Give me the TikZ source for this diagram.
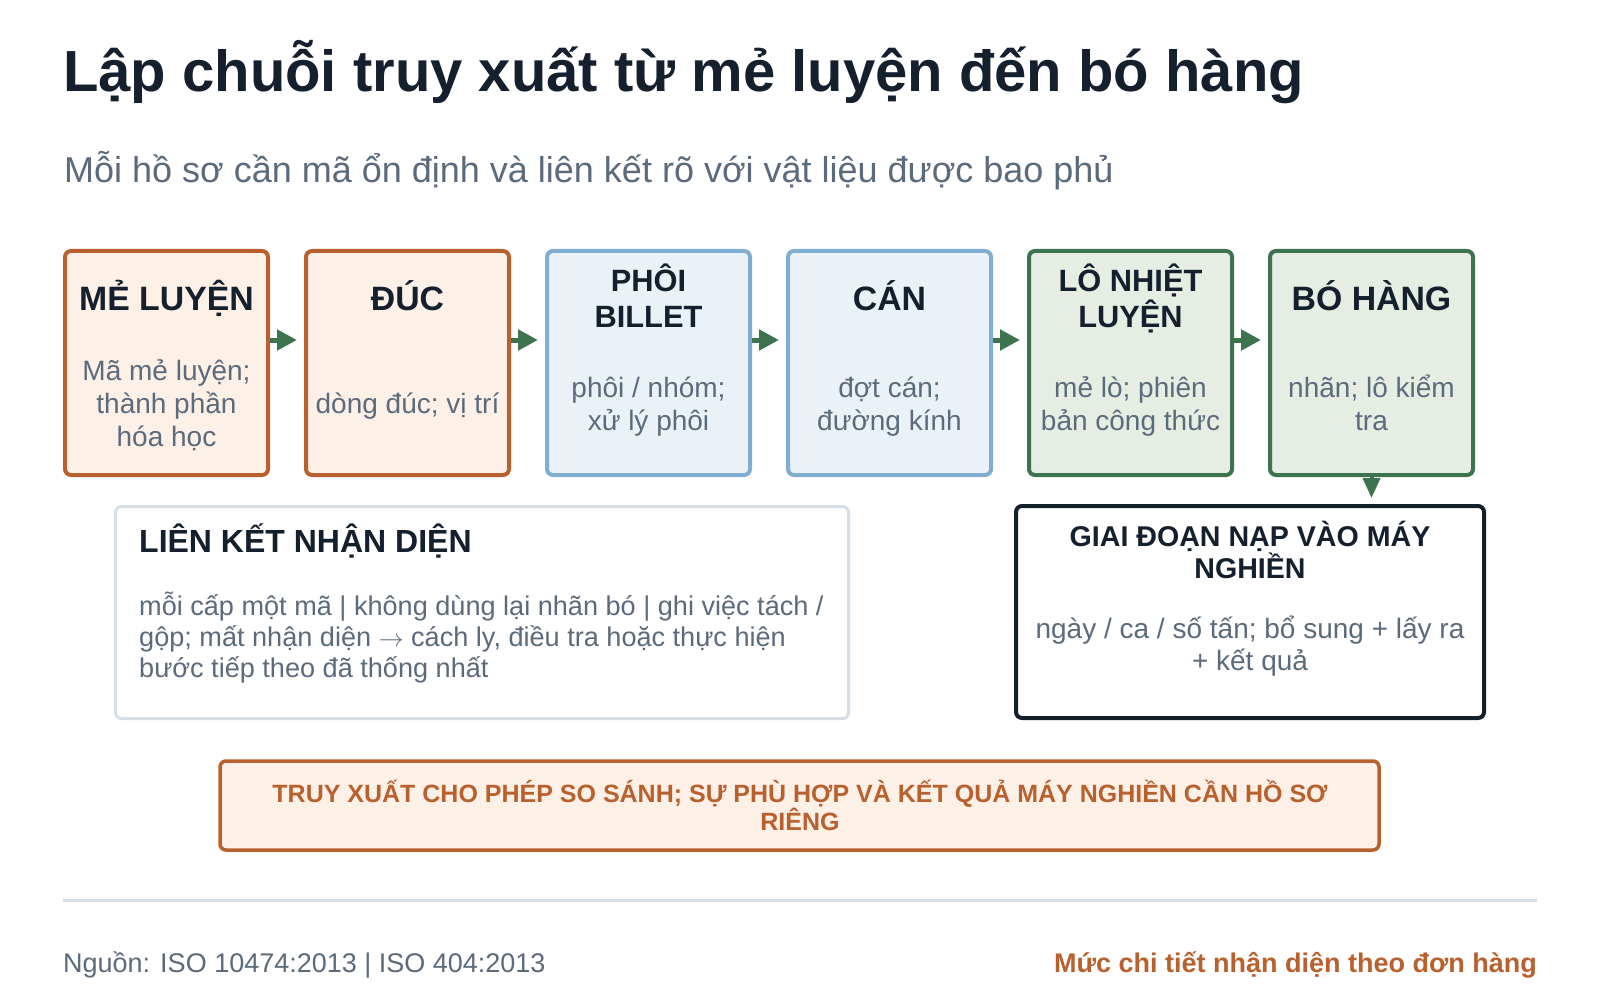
\documentclass[tikz,border=0pt]{standalone}
\usepackage{fontspec}
\setmainfont{Liberation Sans}
\usetikzlibrary{arrows.meta,calc}
\definecolor{ink}{HTML}{14202E}
\definecolor{muted}{HTML}{5B6B7C}
\definecolor{rust}{HTML}{B9602F}
\definecolor{rustfill}{HTML}{FDF0E7}
\definecolor{sky}{HTML}{7FAED1}
\definecolor{skyfill}{HTML}{EAF2F7}
\definecolor{moss}{HTML}{3E7350}
\definecolor{mossfill}{HTML}{E6EEE3}
\definecolor{rulegray}{HTML}{D5DFE8}
\begin{document}
\begin{tikzpicture}[x=1pt,y=-1pt,
  stage/.style={draw, rounded corners=6pt, line width=4pt, minimum width=203pt, minimum height=224pt, inner sep=0pt},
  orangebox/.style={stage, draw=rust, fill=rustfill},
  bluebox/.style={stage, draw=sky, fill=skyfill},
  greenbox/.style={stage, draw=moss, fill=mossfill},
  headA/.style={anchor=base, inner sep=0pt, text=ink, font=\fontsize{33.8}{40}\selectfont\bfseries},
  headB/.style={anchor=base, inner sep=0pt, text=ink, font=\fontsize{30.8}{36}\selectfont\bfseries},
  headC/.style={anchor=base, inner sep=0pt, text=ink, font=\fontsize{28.6}{34}\selectfont\bfseries},
  body/.style={anchor=base, inner sep=0pt, text=muted, font=\fontsize{28}{33}\selectfont},
  bodyL/.style={body, anchor=base west, font=\fontsize{27.1}{33}\selectfont},
  banner/.style={anchor=base, inner sep=0pt, text=rust, font=\fontsize{25}{30}\selectfont\bfseries},
  flow/.style={draw=moss, line width=5pt, -{Triangle[length=20pt,width=20pt]}, shorten >=7pt},
  panel/.style={rounded corners=6pt, fill=white, inner sep=0pt},
]
\fill[white] (0,0) rectangle (1600,1000);
\useasboundingbox (0,0) rectangle (1600,1000);

% title
\node[anchor=base west, inner sep=0pt, text=ink, font=\fontsize{58}{70}\selectfont\bfseries] (title) at (63,92) {Lập chuỗi truy xuất từ mẻ luyện đến bó hàng};
\node[anchor=base west, inner sep=0pt, text=muted, font=\fontsize{36}{43}\selectfont] (subtitle) at (64,183) {Mỗi hồ sơ cần mã ổn định và liên kết rõ với vật liệu được bao phủ};

% stage boxes
\node[orangebox] (b1) at (166.5,363) {};
\node[orangebox] (b2) at (407.5,363) {};
\node[bluebox]   (b3) at (648.5,363) {};
\node[bluebox]   (b4) at (889.5,363) {};
\node[greenbox]  (b5) at (1130.5,363) {};
\node[greenbox]  (b6) at (1371.5,363) {};

\node[headA] (h1) at (166.5,310) {MẺ LUYỆN};
\node[body] (t1a) at (166.5,380) {Mã mẻ luyện;};
\node[body] (t1b) at (166.5,413) {thành phần};
\node[body] (t1c) at (166.5,446) {hóa học};

\node[headA] (h2) at (407.5,310) {ĐÚC};
\node[body] (t2a) at (407.5,413) {dòng đúc; vị trí};

\node[headB] (h3a) at (648.5,291) {PHÔI};
\node[headB] (h3b) at (648.5,327) {BILLET};
\node[body] (t3a) at (648.5,397) {phôi / nhóm;};
\node[body] (t3b) at (648.5,430) {xử lý phôi};

\node[headA] (h4) at (889.5,310) {CÁN};
\node[body] (t4a) at (889.5,397) {đợt cán;};
\node[body] (t4b) at (889.5,430) {đường kính};

\node[headB] (h5a) at (1130.5,291) {LÔ NHIỆT};
\node[headB] (h5b) at (1130.5,327) {LUYỆN};
\node[body] (t5a) at (1130.5,397) {mẻ lò; phiên};
\node[body] (t5b) at (1130.5,430) {bản công thức};

\node[headA] (h6) at (1371.5,310) {BÓ HÀNG};
\node[body] (t6a) at (1371.5,397) {nhãn; lô kiểm};
\node[body] (t6b) at (1371.5,430) {tra};

% arrows between stages
\coordinate (ay) at (0,340);
\draw[flow] (b1.east |- ay) -- (b2.west |- ay);
\draw[flow] (b2.east |- ay) -- (b3.west |- ay);
\draw[flow] (b3.east |- ay) -- (b4.west |- ay);
\draw[flow] (b4.east |- ay) -- (b5.west |- ay);
\draw[flow] (b5.east |- ay) -- (b6.west |- ay);

% identity link panel
\node[panel, draw=rulegray, line width=3pt, minimum width=733pt, minimum height=212pt] (lk) at (482,612.5) {};
\node[anchor=base west, inner sep=0pt, text=ink, font=\fontsize{32}{38}\selectfont\bfseries] (lkh) at (139,552) {LIÊN KẾT NHẬN DIỆN};
\node[bodyL] (lk1) at (139,615) {mỗi cấp một mã | không dùng lại nhãn bó | ghi việc tách /};
\node[bodyL] (lk2) at (139,646) {gộp; mất nhận diện $\rightarrow$ cách ly, điều tra hoặc thực hiện};
\node[bodyL] (lk3) at (139,677) {bước tiếp theo đã thống nhất};

% mill loading panel
\node[panel, draw=ink, line width=4pt, minimum width=468pt, minimum height=212pt] (g) at (1250,612) {};
\node[headC] (gh1) at (1250,546) {GIAI ĐOẠN NẠP VÀO MÁY};
\node[headC] (gh2) at (1250,578) {NGHIỀN};
\node[body] (gt1) at (1250,638) {ngày / ca / số tấn; bổ sung + lấy ra};
\node[body] (gt2) at (1250,670) {+ kết quả};

\draw[draw=moss, line width=4pt, -{Triangle[length=20pt,width=17pt]}, shorten >=6pt] (b6.south) -- (b6.south |- g.north);

% banner
\node[panel, draw=rust, fill=rustfill, line width=3.5pt, minimum width=1159pt, minimum height=89pt] (bn) at (799.5,805.5) {};
\node[banner] (bn1) at (800,802) {TRUY XUẤT CHO PHÉP SO SÁNH; SỰ PHÙ HỢP VÀ KẾT QUẢ MÁY NGHIỀN CẦN HỒ SƠ};
\node[banner] (bn2) at (800,830) {RIÊNG};

% footer
\draw[rulegray, line width=3pt] (63,900) -- (1537,900);
\node[anchor=base west, inner sep=0pt, text=muted, font=\fontsize{27}{32}\selectfont] (src) at (63,972) {Nguồn: ISO 10474:2013 | ISO 404:2013};
\node[anchor=base east, inner sep=0pt, text=rust, font=\fontsize{27}{32}\selectfont\bfseries] (note) at (1537,972) {Mức chi tiết nhận diện theo đơn hàng};
\end{tikzpicture}
\end{document}
